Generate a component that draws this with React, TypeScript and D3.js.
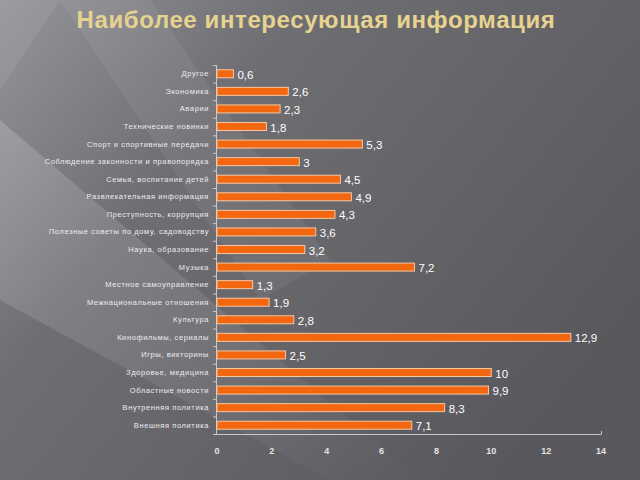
import React from "react";
import { scaleLinear, scaleBand } from "d3";

const categories = [
  "Другое",
  "Экономика",
  "Аварии",
  "Технические новинки",
  "Спорт и спортивные передачи",
  "Соблюдение законности и правопорядка",
  "Семья, воспитание детей",
  "Развлекательная информация",
  "Преступность, коррупция",
  "Полезные советы по дому, садоводству",
  "Наука, образование",
  "Музыка",
  "Местное самоуправление",
  "Межнациональные отношения",
  "Культура",
  "Кинофильмы, сериалы",
  "Игры, викторины",
  "Здоровье, медицина",
  "Областные новости",
  "Внутренняя политика",
  "Внешняя политика",
];

const values = [0.6, 2.6, 2.3, 1.8, 5.3, 3, 4.5, 4.9, 4.3, 3.6, 3.2, 7.2, 1.3, 1.9, 2.8, 12.9, 2.5, 10, 9.9, 8.3, 7.1];

const xTicks = [0, 2, 4, 6, 8, 10, 12, 14];

const fmt = (v: number) => String(v).replace(".", ",");

const App = () => {
  const width = 640;
  const height = 480;
  const left = 217;
  const right = 601;
  const top = 65;
  const bottom = 434;

  const x = scaleLinear().domain([0, 14]).range([left, right]);
  const y = scaleBand().domain(categories).range([top, bottom]);
  const barH = 8;

  return (
    <div style={{ position: "absolute", top: 0, left: 0 }}>
      <svg width={width} height={height} viewBox={`0 0 ${width} ${height}`} style={{ display: "block" }}>
        <defs>
          <linearGradient id="bg" x1="0" y1="0" x2="1" y2="0.6">
            <stop offset="0" stopColor="#95949a" />
            <stop offset="0.35" stopColor="#6f6e73" />
            <stop offset="1" stopColor="#59585d" />
          </linearGradient>
          <linearGradient id="streak" x1="0" y1="0" x2="1" y2="1">
            <stop offset="0" stopColor="#ffffff" stopOpacity="0.22" />
            <stop offset="1" stopColor="#ffffff" stopOpacity="0" />
          </linearGradient>
        </defs>
        <rect width={width} height={height} fill="url(#bg)" />
        <polygon points="0,120 0,300 330,480 420,480" fill="url(#streak)" opacity={0.8} />
        <polygon points="60,0 150,0 330,260 260,300" fill="#ffffff" opacity={0.06} />
        <polygon points="0,0 60,0 0,90" fill="#ffffff" opacity={0.07} />

        <text
          x={316}
          y={28}
          textAnchor="middle"
          fontFamily="Liberation Sans, Arial, sans-serif"
          fontWeight="bold"
          fontSize={24}
          letterSpacing={0.6}
          fill="#e6d38f"
        >
          Наиболее интересующая информация
        </text>

        {/* y axis */}
        <line x1={left - 0.5} x2={left - 0.5} y1={top} y2={bottom} stroke="#c8c8cc" strokeWidth={1} />
        {categories.map((c, i) => (
          <line
            key={"t" + i}
            x1={left - 4}
            x2={left - 0.5}
            y1={(y(c) as number) + 0.5}
            y2={(y(c) as number) + 0.5}
            stroke="#c8c8cc"
          />
        ))}
        <line x1={left - 4} x2={left} y1={bottom + 0.5} y2={bottom + 0.5} stroke="#c8c8cc" />

        {/* x axis */}
        <line x1={left} x2={right} y1={bottom + 0.5} y2={bottom + 0.5} stroke="#c8c8cc" />
        <line x1={right + 0.5} x2={right + 0.5} y1={bottom - 3} y2={bottom + 0.5} stroke="#c8c8cc" />
        {xTicks.map((t) => (
          <text
            key={"x" + t}
            x={x(t)}
            y={454}
            textAnchor="middle"
            fontFamily="Liberation Sans, Arial, sans-serif"
            fontWeight="bold"
            fontSize={9}
            fill="#e4e4e6"
          >
            {t}
          </text>
        ))}

        {/* bars */}
        {categories.map((c, i) => {
          const cy = (y(c) as number) + y.bandwidth() / 2;
          return (
            <g key={c}>
              <rect
                x={x(0)}
                y={cy - barH / 2}
                width={x(values[i]) - x(0)}
                height={barH}
                fill="#f26710"
                stroke="#f6c7a2"
                strokeWidth={1}
              />
              <text
                x={x(values[i]) + 4}
                y={cy + 5}
                fontFamily="Liberation Sans, Arial, sans-serif"
                fontSize={11.5}
                fill="#ffffff"
              >
                {fmt(values[i])}
              </text>
              <text
                x={left - 8}
                y={cy + 2.5}
                textAnchor="end"
                fontFamily="Liberation Sans, Arial, sans-serif"
                fontSize={7.5}
                letterSpacing={0.6}
                fill="#ececee"
              >
                {c}
              </text>
            </g>
          );
        })}
      </svg>
    </div>
  );
};

export default App;
